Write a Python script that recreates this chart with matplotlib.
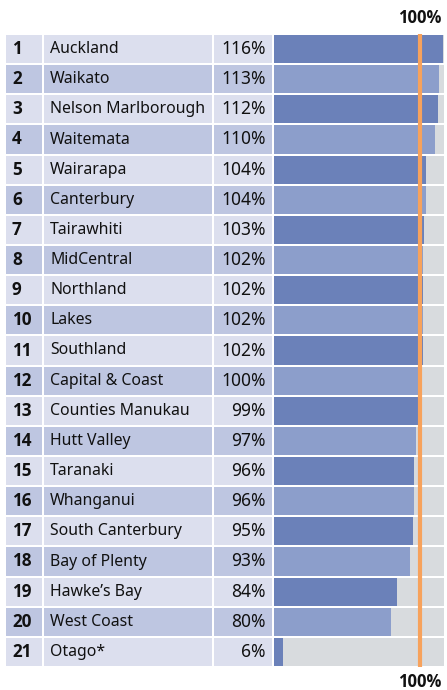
import matplotlib
matplotlib.use("Agg")
import matplotlib.pyplot as plt
from matplotlib.transforms import blended_transform_factory

ranks = list(range(1, 22))
regions = ["Auckland", "Waikato", "Nelson Marlborough", "Waitemata", "Wairarapa",
           "Canterbury", "Tairawhiti", "MidCentral", "Northland", "Lakes",
           "Southland", "Capital & Coast", "Counties Manukau", "Hutt Valley",
           "Taranaki", "Whanganui", "South Canterbury", "Bay of Plenty",
           "Hawke\u2019s Bay", "West Coast", "Otago*"]
values = [116, 113, 112, 110, 104, 104, 103, 102, 102, 102, 102, 100, 99, 97,
          96, 96, 95, 93, 84, 80, 6]
target = 100
xmax = 116.4

W, H = 447, 690
fig = plt.figure(figsize=(W / 100, H / 100), dpi=100)
plt.rcParams['font.family'] = ['Noto Sans', 'DejaVu Sans']
boldfam = ['Open Sans', 'DejaVu Sans']

top_px, bot_px = 34, 667
n = len(regions)
row_light = "#dcdfee"
row_dark = "#bec6e1"
bar_dark = "#6b81b9"
bar_light = "#8c9ecb"
grey = "#d8dbde"
orange = "#f7a25c"
txt = "#111111"
h = 0.93

# table axes
axt = fig.add_axes([6 / W, (H - bot_px) / H, (272 - 6) / W, (bot_px - top_px) / H])
axt.set_xlim(6, 272)
axt.set_ylim(n - 0.5, -0.5)
axt.axis("off")
ys = list(range(n))
cols = [row_light if i % 2 == 0 else row_dark for i in ys]
for left, right in [(6, 41.5), (43.5, 212.3), (214.3, 272)]:
    axt.barh(ys, right - left, left=left, height=h, color=cols, linewidth=0)
for i in ys:
    axt.text(12, i, str(ranks[i]), ha="left", va="center", fontsize=12.3,
             fontweight="bold", family=boldfam, color=txt)
    axt.text(50, i, regions[i], ha="left", va="center", fontsize=11.4, color=txt)
    axt.text(266, i, f"{values[i]}%", ha="right", va="center", fontsize=12.5, color=txt)

# bar axes
ax = fig.add_axes([274 / W, (H - bot_px) / H, (444 - 274) / W, (bot_px - top_px) / H])
ax.set_xlim(0, xmax)
ax.set_ylim(n - 0.5, -0.5)
ax.axis("off")
ax.barh(ys, [xmax] * n, height=h, color=grey, linewidth=0)
bcols = [bar_dark if i % 2 == 0 else bar_light for i in ys]
ax.barh(ys, values, height=h, color=bcols, linewidth=0)
ax.axvline(target, color=orange, lw=3, zorder=5)

tr = blended_transform_factory(ax.transData, fig.transFigure)
for ypx in (18, 682):
    ax.text(target, 1 - ypx / H, "100%", transform=tr, ha="center", va="center",
            fontsize=12, fontweight="bold", family=boldfam, color=txt)

fig.savefig("out.png", dpi=100)
